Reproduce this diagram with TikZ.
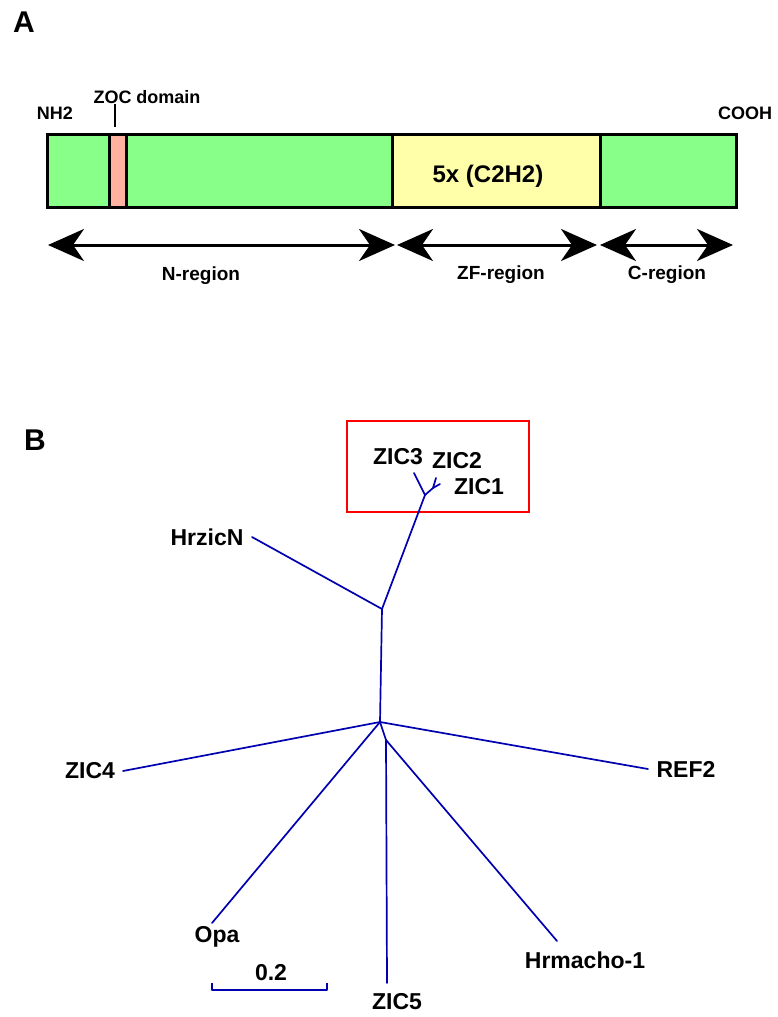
\documentclass[tikz,border=0pt]{standalone}
\usepackage{fontspec}
\setmainfont{Liberation Sans}
\usetikzlibrary{arrows.meta}
\definecolor{segGreen}{RGB}{136,255,136}
\definecolor{segPink}{RGB}{255,178,160}
\definecolor{segYellow}{RGB}{255,255,170}
\definecolor{treeBlue}{RGB}{0,0,176}
\definecolor{boxRed}{RGB}{255,0,0}
\tikzset{
  seg/.style={draw=black, line width=3pt, inner sep=0pt, outer sep=0pt, anchor=north west, minimum height=73pt},
  small/.style={font=\fontsize{18}{18}\selectfont\bfseries, inner sep=0pt},
  regionlbl/.style={font=\fontsize{19}{19}\selectfont\bfseries, inner sep=0pt},
  treelbl/.style={font=\fontsize{23}{23}\selectfont\bfseries, inner sep=0pt},
  panel/.style={font=\fontsize{30}{30}\selectfont\bfseries, inner sep=0pt},
  regarrow/.style={line width=3pt, {Stealth[length=36pt,width=32pt,inset=11pt]}-{Stealth[length=36pt,width=32pt,inset=11pt]}},
  branch/.style={draw=treeBlue, line width=1.7pt, line cap=round, line join=round},
}
\begin{document}
\begin{tikzpicture}[x=1pt,y=-1pt]
\useasboundingbox (0,0) rectangle (777,1017);
% panel labels
\node[panel] (lA) at (24,22) {A};
\node[panel] (lB) at (35,440) {B};
% protein bar
\node[seg, fill=segGreen, minimum width=62pt] (s1) at (47,134) {};
\node[seg, fill=segPink, minimum width=17pt] (zoc) at (109,134) {};
\node[seg, fill=segGreen, minimum width=266pt] (s2) at (126,134) {};
\node[seg, fill=segYellow, minimum width=208pt] (zf) at (392,134) {};
\node[seg, fill=segGreen, minimum width=136pt] (s3) at (600,134) {};
\node[font=\fontsize{24}{24}\selectfont\bfseries, inner sep=0pt] (zftext) at (488,176) {5x (C2H2)};
% top labels
\node[small] (nh2) at (55,113) {NH2};
\node[small] (zocl) at (147,97) {ZOC domain};
\node[small] (cooh) at (745,113) {COOH};
\coordinate (tickTop) at (115,104);
\coordinate (tickBot) at (115,127);
\draw[line width=2pt] (tickTop) -- (tickBot);
% region arrows
\coordinate (nL) at (48,245);
\coordinate (nR) at (395,245);
\coordinate (zL) at (397,245);
\coordinate (zR) at (597,245);
\coordinate (cL) at (600,245);
\coordinate (cR) at (733,245);
\draw[regarrow] (nL) -- (nR);
\draw[regarrow] (zL) -- (zR);
\draw[regarrow] (cL) -- (cR);
\node[regionlbl] (nreg) at (201,276) {N-region};
\node[regionlbl] (zreg) at (501,275) {ZF-region};
\node[regionlbl] (creg) at (667,275) {C-region};
% tree
\node[draw=boxRed, line width=2pt, minimum width=182pt, minimum height=91pt, inner sep=0pt, anchor=north west] (redbox) at (346,420) {};
\coordinate (c1) at (380,722);
\coordinate (n2) at (386,740);
\coordinate (n3) at (382,609);
\coordinate (n4) at (425,495);
\coordinate (n5) at (433,488);
\coordinate (tZIC3) at (414,473);
\coordinate (tZIC2) at (436,478);
\coordinate (tZIC1) at (440,484);
\coordinate (tHrz) at (252,537);
\coordinate (tZIC4) at (123,771);
\coordinate (tREF2) at (648,769);
\coordinate (tOpa) at (212,923);
\coordinate (tZIC5) at (387,983);
\coordinate (tHrm) at (557,941);
\draw[branch] (c1) -- (n3);
\draw[branch] (n3) -- (tHrz);
\draw[branch] (n3) -- (n4);
\draw[branch] (n4) -- (tZIC3);
\draw[branch] (n4) -- (n5);
\draw[branch] (n5) -- (tZIC2);
\draw[branch] (n5) -- (tZIC1);
\draw[branch] (c1) -- (tZIC4);
\draw[branch] (c1) -- (tREF2);
\draw[branch] (c1) -- (tOpa);
\draw[branch] (c1) -- (n2);
\draw[branch] (n2) -- (tZIC5);
\draw[branch] (n2) -- (tHrm);
% tree labels
\node[treelbl] (lZIC3) at (398,457) {ZIC3};
\node[treelbl] (lZIC2) at (457,461) {ZIC2};
\node[treelbl] (lZIC1) at (479,487) {ZIC1};
\node[treelbl] (lHrz) at (207,537) {HrzicN};
\node[treelbl] (lZIC4) at (90,771) {ZIC4};
\node[treelbl] (lREF2) at (686,769) {REF2};
\node[treelbl] (lOpa) at (217,937) {Opa};
\node[treelbl] (lHrm) at (585,960) {Hrmacho-1};
\node[treelbl] (lZIC5) at (397,1002) {ZIC5};
% scale bar
\coordinate (sbA) at (212,983);
\coordinate (sbB) at (212,990);
\coordinate (sbC) at (327,990);
\coordinate (sbD) at (327,983);
\draw[branch, line cap=butt] (sbA) -- (sbB) -- (sbC) -- (sbD);
\node[treelbl] (lscale) at (271,973) {0.2};
\end{tikzpicture}
\end{document}
